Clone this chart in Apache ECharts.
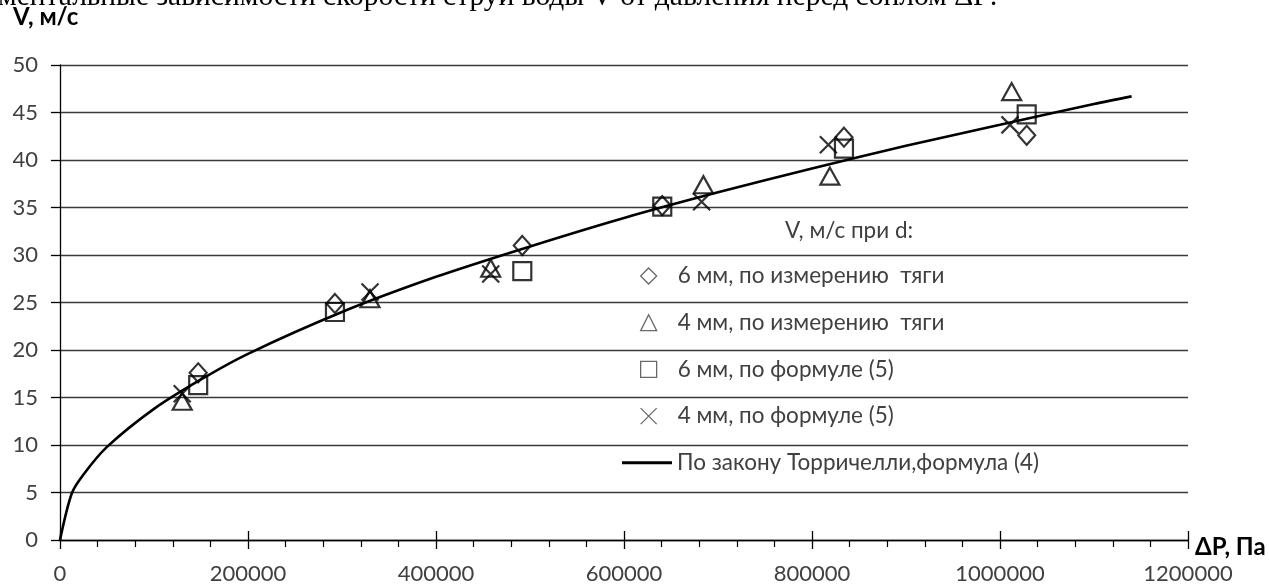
<!DOCTYPE html>
<html>
<head>
<meta charset="utf-8">
<script src="https://cdn.jsdelivr.net/npm/echarts@6/dist/echarts.min.js"></script>
<style>
html,body{margin:0;padding:0;background:#fff;}
#chart{width:1269px;height:586px;}
</style>
</head>
<body>
<div id="chart"></div>
<script>
// ---- data ----
var seriesNames = [
  '6 мм, по измерению  тяги',
  '4 мм, по измерению  тяги',
  '6 мм, по формуле (5)',
  '4 мм, по формуле (5)',
  'По закону Торричелли,формула (4)'
];
var dp6Meas = [147000, 292500, 491800, 640700, 834000, 1028400];
var v6Meas  = [17.6, 24.9, 31.0, 35.2, 42.4, 42.6];
var dp4Meas = [130000, 329800, 458200, 684500, 819000, 1012400];
var v4Meas  = [14.6, 25.4, 28.6, 37.4, 38.3, 47.2];
var dp6Form = [147000, 292500, 491800, 640700, 834000, 1028400];
var v6Form  = [16.3, 24.0, 28.3, 35.1, 41.2, 44.8];
var dp4Form = [130000, 329800, 458200, 682600, 817400, 1010600];
var v4Form  = [15.4, 26.1, 28.0, 35.6, 41.6, 43.7];
var dpCurve = [0, 12500, 25000, 50000, 100000, 150000, 200000, 300000, 400000, 500000, 600000, 700000, 800000, 900000, 1000000, 1100000, 1140000];
var vCurve  = [0, 4.9, 6.9, 9.8, 13.8, 16.9, 19.6, 24.0, 27.7, 30.9, 33.9, 36.6, 39.1, 41.5, 43.7, 45.9, 46.7];

var titleText = 'ментальные зависимости скорости струи воды V от давления перед соплом ΔP:';
var yName = 'V, м/с';
var xName = 'ΔP, Па';
var legendTitle = 'V, м/с при d:';

function pairs(xs, ys){ return xs.map(function(x,i){ return [x, ys[i]]; }); }

var FONT = 'Lato, "Open Sans", sans-serif';
var markerStyle = {color:'rgba(255,255,255,0)', borderColor:'#000', borderWidth:2.2};
var xPath = 'path://M0,0L10,10M10,0L0,10';
var ROW = 46.7, LTOP = 264;

var chart = echarts.init(document.getElementById('chart'), null, {renderer:'canvas'});
chart.setOption({
  animation:false,
  backgroundColor:'#fff',
  grid:{left:60, right:81, top:65, bottom:46, containLabel:false},
  xAxis:[{
    type:'value', min:0, max:1200000, interval:200000,
    axisLine:{show:true, onZero:false, lineStyle:{color:'#000', width:1.3}},
    axisTick:{show:true, inside:false, length:9, lineStyle:{color:'#000', width:1.3}},
    minorTick:{show:true, splitNumber:5, length:7, lineStyle:{color:'#000', width:1.2}},
    splitLine:{show:false},
    axisLabel:{color:'#404040', fontSize:22, fontFamily:FONT, margin:23,
      formatter:function(v){ return String(v); }}
  },{
    type:'value', min:0, max:1200000, interval:200000, position:'bottom',
    axisLine:{show:false},
    axisTick:{show:true, inside:true, length:9, lineStyle:{color:'#000', width:1.3}},
    splitLine:{show:false},
    axisLabel:{show:false}
  }],
  yAxis:{
    type:'value', min:0, max:50, interval:5,
    axisLine:{show:true, lineStyle:{color:'#000', width:1.3}},
    axisTick:{show:true, length:9, lineStyle:{color:'#000', width:1.3}},
    splitLine:{show:true, lineStyle:{color:'#3a3a3a', width:1.3}},
    axisLabel:{color:'#404040', fontSize:22, fontFamily:FONT, margin:22}
  },
  legend:[{
    orient:'vertical', left:640, top:LTOP, padding:0,
    itemWidth:16, itemHeight:16, itemGap:ROW-24,
    textStyle:{color:'#404040', fontSize:22.5, fontFamily:FONT, lineHeight:24, padding:[0,0,0,16]},
    itemStyle:{borderWidth:1.3, borderColor:'#444'},
    data:seriesNames.slice(0,4)
  },{
    orient:'vertical', left:622, top:LTOP + 4*ROW, padding:0,
    itemWidth:50, itemHeight:3, icon:'rect',
    textStyle:{color:'#404040', fontSize:22.5, fontFamily:FONT, lineHeight:24},
    itemStyle:{color:'#000'},
    data:[seriesNames[4]]
  }],
  graphic:[
    {type:'text', left:-2, top:-18, silent:true,
      style:{text:titleText, font:'29.5px "Liberation Serif", "DejaVu Serif", serif', fill:'#000'}},
    {type:'text', left:13, top:5, silent:true,
      style:{text:yName, font:'bold 24px ' + FONT, fill:'#000'}},
    {type:'text', left:1195, top:535, silent:true,
      style:{text:xName, font:'bold 24px ' + FONT, fill:'#000'}},
    {type:'text', left:785, top:219, silent:true,
      style:{text:legendTitle, font:'22.5px ' + FONT, fill:'#404040'}}
  ],
  series:[
    {name:seriesNames[0], type:'scatter', symbol:'diamond', symbolSize:[17,19],
      itemStyle:markerStyle, data:pairs(dp6Meas, v6Meas), z:3},
    {name:seriesNames[1], type:'scatter', symbol:'triangle', symbolSize:[19,17],
      itemStyle:markerStyle, data:pairs(dp4Meas, v4Meas), z:3},
    {name:seriesNames[2], type:'scatter', symbol:'rect', symbolSize:18,
      itemStyle:markerStyle, data:pairs(dp6Form, v6Form), z:3},
    {name:seriesNames[3], type:'scatter', symbol:xPath, symbolSize:17,
      itemStyle:markerStyle, data:pairs(dp4Form, v4Form), z:3},
    {name:seriesNames[4], type:'line', showSymbol:false, symbol:'none', smooth:0.3,
      lineStyle:{color:'#000', width:2.6}, itemStyle:{color:'#000'},
      data:pairs(dpCurve, vCurve), z:2}
  ]
});
</script>
</body>
</html>
